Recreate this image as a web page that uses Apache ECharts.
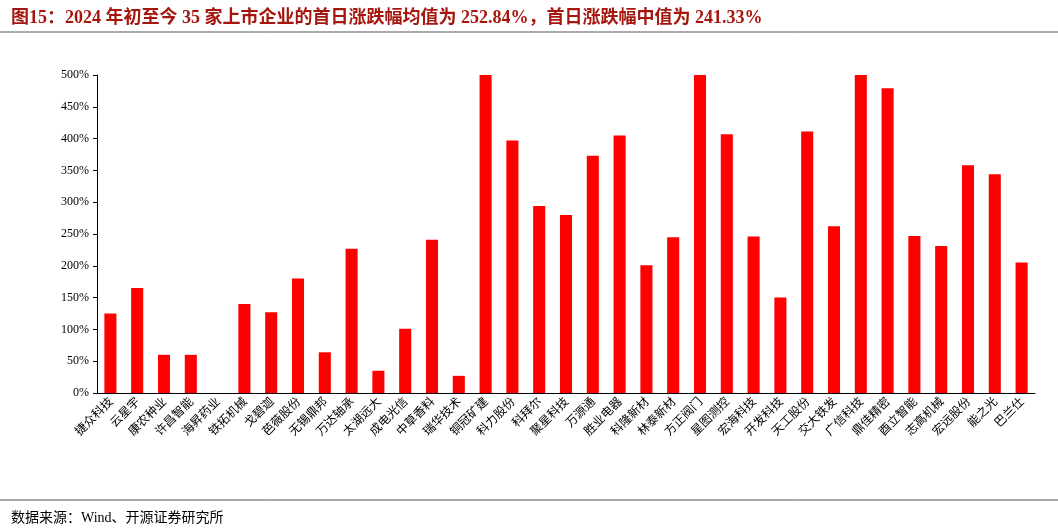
<!DOCTYPE html><html><head><meta charset="utf-8"><script src="https://cdn.jsdelivr.net/npm/echarts@6/dist/echarts.min.js"></script>
<style>body{margin:0;background:#fff}#c{width:1058px;height:530px}</style></head><body><div id="c"></div><script>
const categories=['捷众科技','云星宇','康农种业','许昌智能','海昇药业','铁拓机械','戈碧迦','芭薇股份','无锡鼎邦','万达轴承','太湖远大','成电光信','中草香料','瑞华技术','铜冠矿建','科力股份','科拜尔','聚星科技','万源通','胜业电器','科隆新材','林泰新材','方正阀门','星图测控','宏海科技','开发科技','天工股份','交大铁发','广信科技','鼎佳精密','酉立智能','志高机械','宏远股份','能之光','巴兰仕'];
const values=[125,165,60,60,0,140,127,180,64,227,35,101,241,27,500,397,294,280,373,405,201,245,500,407,246,150,411,262,500,479,247,231,358,344,205];
const ticks=[0,50,100,150,200,250,300,350,400,450,500];
const ch=echarts.init(document.getElementById('c'));
const F='"Noto Sans CJK SC"';
ch.setOption({animation:false,
title:[{text:'图15：2024 年初至今 35 家上市企业的首日涨跌幅均值为 252.84%，首日涨跌幅中值为 241.33%',left:6,top:4,textStyle:{fontSize:18,fontWeight:'bold',color:'#A5170E',fontFamily:'"Liberation Serif",'+F}},
{text:'数据来源：Wind、开源证券研究所',left:6,top:506,textStyle:{fontSize:14,fontWeight:'normal',color:'#000',fontFamily:'"Liberation Serif",'+F}}],
graphic:[{type:'line',shape:{x1:0,y1:32,x2:1058,y2:32},style:{stroke:'#555',lineWidth:1}},
{type:'line',shape:{x1:0,y1:500,x2:1058,y2:500},style:{stroke:'#555',lineWidth:1}}],
grid:{left:97,right:23,top:75,bottom:137},
xAxis:{type:'category',data:categories,axisTick:{show:false},axisLine:{lineStyle:{color:'#000'}},axisLabel:{interval:0,rotate:45,fontSize:12,color:'#000',fontFamily:F,margin:6}},
yAxis:{type:'value',min:0,max:500,interval:50,splitLine:{show:false},axisLine:{show:true,lineStyle:{color:'#000'}},axisTick:{show:true,length:4,lineStyle:{color:'#000'}},axisLabel:{fontSize:12,color:'#000',fontFamily:'"Liberation Serif"',formatter:v=>ticks.includes(v)?v+'%':''}},
series:[{type:'bar',data:values,barWidth:'45%',itemStyle:{color:'#FF0000'}}]});
</script></body></html>
